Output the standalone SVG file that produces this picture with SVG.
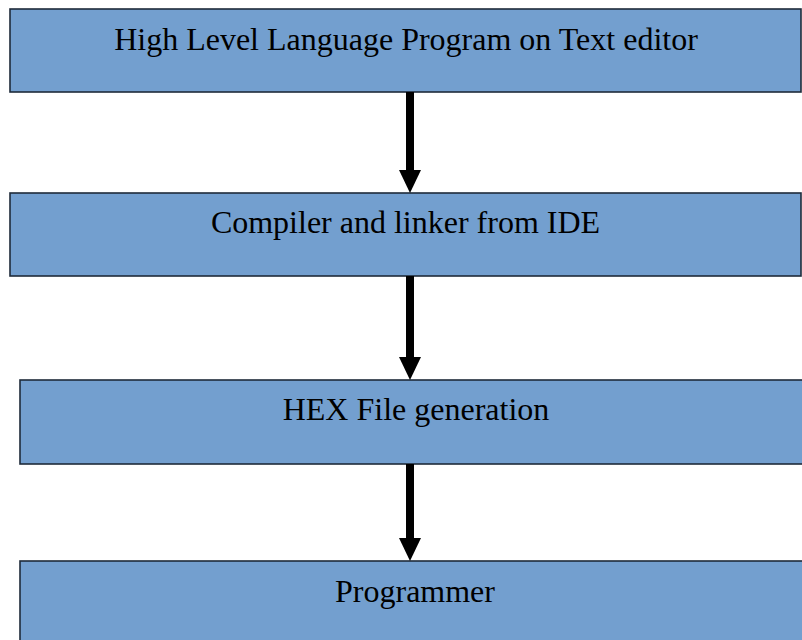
<svg xmlns="http://www.w3.org/2000/svg" width="802" height="640" viewBox="0 0 802 640">
<defs>
<style>
.box{fill:#739fcf;stroke:#1e2b3a;stroke-width:1.6}
.lbl{font-family:"Liberation Serif","Times New Roman",serif;font-size:32px;fill:#000;text-anchor:middle}
.shaft{stroke:#000;stroke-width:8;fill:none}
.head{fill:#000}
</style>
</defs>
<rect width="802" height="640" fill="#fff"/>
<g id="node1"><rect class="box" x="10" y="9" width="791" height="83"/><text class="lbl" x="406" y="50">High Level Language Program on Text editor</text></g>
<g id="node2"><rect class="box" x="10" y="193" width="791" height="83"/><text class="lbl" x="405.5" y="233">Compiler and linker from IDE</text></g>
<g id="node3"><rect class="box" x="20" y="380" width="790" height="84"/><text class="lbl" x="416" y="420">HEX File generation</text></g>
<g id="node4"><rect class="box" x="20" y="561" width="790" height="90"/><text class="lbl" x="415" y="602">Programmer</text></g>
<g id="connectors">
<line class="shaft" x1="410" y1="92" x2="410" y2="171"/><polygon class="head" points="399,170 421,170 410,193"/>
<line class="shaft" x1="410" y1="276" x2="410" y2="358"/><polygon class="head" points="399,357 421,357 410,380"/>
<line class="shaft" x1="410" y1="464" x2="410" y2="539"/><polygon class="head" points="399,538 421,538 410,561"/>
</g>
</svg>
